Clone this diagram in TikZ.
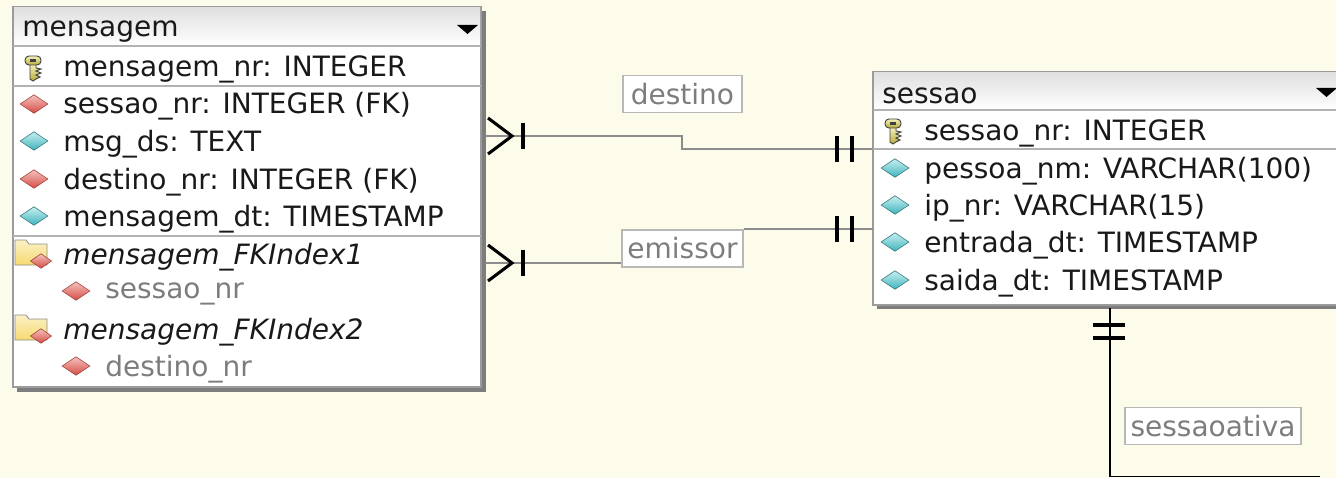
\documentclass[tikz,border=0pt]{standalone}
\usepackage{fontspec}
\setmainfont{DejaVu Sans}
\usepackage{tikz}
\usetikzlibrary{shapes.geometric}
\definecolor{bgcream}{RGB}{253,252,234}
\definecolor{framegray}{RGB}{155,155,155}
\definecolor{shadowgray}{RGB}{125,125,125}
\definecolor{linegray}{RGB}{140,140,140}
\definecolor{labelgray}{RGB}{125,125,125}
\definecolor{fkred}{RGB}{225,80,72}
\definecolor{attrcyan}{RGB}{70,200,208}
\definecolor{keyyellow}{RGB}{228,215,70}
\definecolor{folderyellow}{RGB}{246,218,112}

\begin{document}
\begin{tikzpicture}[x=0.75pt,y=0.75pt,yscale=-1,xscale=1,
  every node/.style={font=\fontsize{21}{25}\selectfont},
  field/.style={anchor=west, inner sep=0.75pt, text=black!90},
  idxname/.style={anchor=west, inner sep=0.75pt, text=black!90, font=\fontsize{21}{25}\selectfont\itshape},
  idxfield/.style={anchor=west, inner sep=0.75pt, text=labelgray},
  fk/.style={diamond, draw=fkred!70!black, line width=0.4pt, top color=fkred!35, bottom color=fkred!95!black, inner sep=0pt, minimum width=21pt, minimum height=14pt},
  attr/.style={diamond, draw=attrcyan!55!black, line width=0.4pt, top color=attrcyan!30, bottom color=attrcyan!90!black, inner sep=0pt, minimum width=21pt, minimum height=14pt},
  smallfk/.style={fk, minimum width=16pt, minimum height=11pt},
  rellabel/.style={draw=black!28, fill=white, text=labelgray, line width=1.2pt, minimum height=28pt, inner xsep=4pt, inner ysep=0pt},
  relline/.style={draw=linegray, line width=1.1pt},
  crow/.style={draw=black, line width=2.3pt},
  sepline/.style={draw=black!30, line width=1.2pt},
  keypart/.style={top color=keyyellow!35, bottom color=keyyellow!80!black, draw=black!75, line width=0.7pt},
  folderpart/.style={top color=folderyellow!40, bottom color=folderyellow, draw=black!45, line width=0.6pt},
]
\useasboundingbox (0,0) rectangle (1336,478);
\fill[bgcream] (0,0) rectangle (1336,478);

% mensagem table
\fill[shadowgray] (17,11) rectangle (486,392);
\filldraw[fill=white, draw=framegray, line width=1.3pt] (13,7) rectangle (481,387);
\shade[top color=black!12, bottom color=white] (14,8) rectangle (480,46);
\draw[sepline] (13,46) -- (481,46);
\draw[sepline] (13,86) -- (481,86);
\draw[sepline] (13,236) -- (481,236);
\fill[black] (457,25) -- (478,25) -- (467.5,34) -- cycle;

% key icon
\begin{scope}[shift={(33,68)}]
\shade[keypart] (-3,-4) -- (3,-4) -- (3,0) -- (8,1) -- (3,3) -- (8,5) -- (3,7) -- (7,9) -- (3,11) -- (0,13) -- (-3,11) -- cycle;
\shade[keypart, rounded corners=3pt] (-8,-12) rectangle (8,-3);
\fill[black!75] (-3,-9) rectangle (3,-6);
\end{scope}

% folder icons
\begin{scope}[shift={(33,253)}]
\shade[folderpart] (-18,-13) -- (-7,-13) -- (-4,-9) -- (14,-9) -- (14,12) -- (-18,12) -- cycle;
\end{scope}
\begin{scope}[shift={(33,328)}]
\shade[folderpart] (-18,-13) -- (-7,-13) -- (-4,-9) -- (14,-9) -- (14,12) -- (-18,12) -- cycle;
\end{scope}

% Text Node
\node[field] (mensagem) at (21,32) {mensagem};
\node[field] (m-pk) at (62,69) {mensagem\_nr: INTEGER};
\node[fk] (m-fk1) at (34,104) {};
\node[field] (m-sessao) at (62,106) {sessao\_nr: INTEGER (FK)};
\node[attr] (m-at1) at (34,141) {};
\node[field] (m-msg) at (62,144) {msg\_ds: TEXT};
\node[fk] (m-fk2) at (34,179) {};
\node[field] (m-dest) at (62,182) {destino\_nr: INTEGER (FK)};
\node[attr] (m-at2) at (34,216) {};
\node[field] (m-dt) at (62,219) {mensagem\_dt: TIMESTAMP};
\node[smallfk] (m-idx1ic) at (41,261) {};
\node[idxname] (m-idx1) at (62,257) {mensagem\_FKIndex1};
\node[fk] (m-idx1fk) at (76,291) {};
\node[idxfield] (m-idx1f) at (104,294) {sessao\_nr};
\node[smallfk] (m-idx2ic) at (41,336) {};
\node[idxname] (m-idx2) at (62,332) {mensagem\_FKIndex2};
\node[fk] (m-idx2fk) at (76,366) {};
\node[idxfield] (m-idx2f) at (104,369) {destino\_nr};

% sessao table
\fill[shadowgray] (877,76) rectangle (1345,309);
\filldraw[fill=white, draw=framegray, line width=1.3pt] (873,72) rectangle (1345,305);
\shade[top color=black!12, bottom color=white] (874,73) rectangle (1344,110);
\draw[sepline] (873,110) -- (1345,110);
\draw[sepline] (873,149) -- (1345,149);
\fill[black] (1316,88) -- (1337,88) -- (1326.5,97) -- cycle;

% key icon
\begin{scope}[shift={(893,131)}]
\shade[keypart] (-3,-4) -- (3,-4) -- (3,0) -- (8,1) -- (3,3) -- (8,5) -- (3,7) -- (7,9) -- (3,11) -- (0,13) -- (-3,11) -- cycle;
\shade[keypart, rounded corners=3pt] (-8,-12) rectangle (8,-3);
\fill[black!75] (-3,-9) rectangle (3,-6);
\end{scope}

% Text Node
\node[field] (sessao) at (881,96) {sessao};
\node[field] (s-pk) at (923,133) {sessao\_nr: INTEGER};
\node[attr] (s-at1) at (895,168) {};
\node[field] (s-nome) at (923,171) {pessoa\_nm: VARCHAR(100)};
\node[attr] (s-at2) at (895,205) {};
\node[field] (s-ip) at (923,208) {ip\_nr: VARCHAR(15)};
\node[attr] (s-at3) at (895,242) {};
\node[field] (s-entrada) at (923,245) {entrada\_dt: TIMESTAMP};
\node[attr] (s-at4) at (895,280) {};
\node[field] (s-saida) at (923,283) {saida\_dt: TIMESTAMP};

% relation ends
\coordinate (m-destino) at (485,136);
\coordinate (s-destino) at (873,149);
\coordinate (m-emissor) at (485,263);
\coordinate (s-emissor) at (873,229);
\coordinate (s-ativa) at (1110,308);
\coordinate (ativa-end) at (1320,476.5);

% Text Node
\node[rellabel, minimum width=89pt] (destino) at (682.5,94) {destino};
\node[rellabel, minimum width=89pt] (emissor) at (682.5,248.5) {emissor};
\node[rellabel, minimum width=127pt] (sessaoativa) at (1213,426) {sessaoativa};

%Straight Lines
\draw[relline] (m-destino) -- (682,136) -- (682,149) -- (s-destino);
\draw[crow] (m-destino) ++(3,-18) -- ++(24,18) -- ++(-24,18);
\draw[crow] (m-destino) ++(38,-13) -- ++(0,26);
\draw[crow] (s-destino) ++(-36,-13) -- ++(0,26) (s-destino) ++(-21,-13) -- ++(0,26);

%Straight Lines
\draw[relline] (m-emissor) -- (emissor.west |- m-emissor);
\draw[relline] (emissor.east |- s-emissor) -- (s-emissor);
\draw[crow] (m-emissor) ++(3,-18) -- ++(24,18) -- ++(-24,18);
\draw[crow] (m-emissor) ++(38,-13) -- ++(0,26);
\draw[crow] (s-emissor) ++(-36,-13) -- ++(0,26) (s-emissor) ++(-21,-13) -- ++(0,26);

%Straight Lines
\draw[draw=black, line width=1.4pt] (s-ativa) |- (ativa-end);
\draw[crow] (s-ativa) ++(-17,17) -- ++(32,0) (s-ativa) ++(-17,30) -- ++(32,0);

\end{tikzpicture}
\end{document}
